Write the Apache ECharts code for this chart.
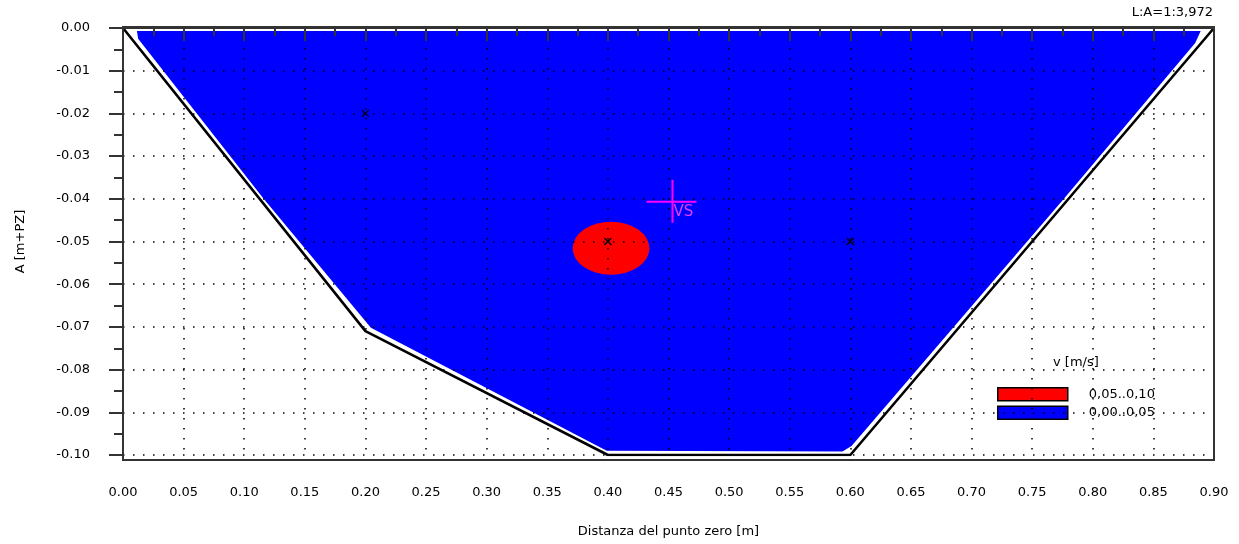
<!DOCTYPE html>
<html><head><meta charset="utf-8">
<script src="https://cdn.jsdelivr.net/npm/echarts@6/dist/echarts.min.js"></script>
<style>html,body{margin:0;padding:0;background:#fff}#c{width:1239px;height:544px}</style>
</head><body><div id="c"></div>
<script>
// ---- data ----
const profileX = [0, 0.2, 0.4, 0.6, 0.9];
const profileY = [0, -0.071, -0.1, -0.1, 0];
const blueX = [0.0115, 0.889, 0.8845, 0.7753, 0.601, 0.5935, 0.399, 0.2045, 0.116, 0.0125];
const blueY = [-0.0007, -0.0007, -0.0035, -0.0403, -0.0979, -0.0992, -0.0990, -0.0702, -0.0400, -0.0025];
const redEllipse = [0.4026, -0.0516, 0.0317, 0.0062]; // centre x, centre y, radius x, radius y
const probeX = [0.2, 0.4, 0.6];
const probeY = [-0.02, -0.05, -0.05];
const vsPoint = [0.4533, -0.0407];
const vsLabel = 'VS';
const legendNames = ['0,05..0,10', '0,00..0,05'];
const legendTitle = 'v [m/s]';
const scaleLabel = 'L:A=1:3,972';
const xName = 'Distanza del punto zero [m]';
const yName = 'A [m+PZ]';

const FONT = 'DejaVu Sans';
const TXT = '#000';
const AX = '#333';
const G = {left: 123, right: 25, top: 28, bottom: 89};
const W = 1239, H = 544;

const chart = echarts.init(document.getElementById('c'), null, {renderer: 'canvas'});
const dotted = {color: '#000', width: 1.5, type: [1.5, 8.5]};

chart.setOption({
  animation: false,
  title: [
    {text: scaleLabel, right: 26, top: 6, padding: 0,
     textStyle: {fontFamily: FONT, fontSize: 13, fontWeight: 'normal', color: TXT}},
    {text: legendTitle, left: 1053, top: 356, padding: 0,
     textStyle: {fontFamily: FONT, fontSize: 13, fontWeight: 'normal', color: TXT}}
  ],
  legend: {
    orient: 'vertical', left: 997, top: 387, padding: 0,
    itemWidth: 70, itemHeight: 13, itemGap: 4, icon: 'rect',
    selectedMode: false,
    data: legendNames,
    itemStyle: {borderColor: '#000', borderWidth: 1.5},
    textStyle: {fontFamily: FONT, fontSize: 13, color: TXT, padding: [0, 0, 0, 16], lineHeight: 13}
  },
  grid: {left: G.left, right: G.right, top: G.top, bottom: G.bottom, containLabel: false},
  xAxis: {
    type: 'value', min: 0, max: 0.9, interval: 0.05, offset: 5, z: 5,
    name: xName, nameLocation: 'middle', nameGap: 65,
    nameTextStyle: {fontFamily: FONT, fontSize: 13, color: TXT},
    axisLine: {lineStyle: {color: AX, width: 2}},
    axisTick: {length: 13, lineStyle: {color: AX, width: 2}},
    minorTick: {show: true, splitNumber: 2, length: 8, lineStyle: {color: AX, width: 2}},
    axisLabel: {margin: 26, fontFamily: FONT, fontSize: 13, color: TXT, formatter: v => v.toFixed(2)},
    splitLine: {show: true, lineStyle: dotted}
  },
  yAxis: {
    type: 'value', min: -0.1, max: 0, interval: 0.01, z: 5,
    name: yName, nameLocation: 'middle', nameGap: 96,
    nameTextStyle: {fontFamily: FONT, fontSize: 13, color: TXT},
    axisLine: {lineStyle: {color: AX, width: 2}},
    axisTick: {length: 14, lineStyle: {color: AX, width: 2}},
    minorTick: {show: true, splitNumber: 2, length: 9, lineStyle: {color: AX, width: 2}},
    axisLabel: {margin: 33, fontFamily: FONT, fontSize: 13, color: TXT,
      formatter: v => (Math.abs(v) < 1e-9 ? 0 : v).toFixed(2)},
    splitLine: {show: true, lineStyle: dotted}
  },
  graphic: [{
    type: 'rect', z: 20, silent: true,
    shape: {x: G.left, y: G.top - 1, width: W - G.left - G.right, height: H - G.bottom - G.top + 6},
    style: {fill: null, stroke: AX, lineWidth: 2}
  }],
  series: [
    {
      name: legendNames[1], type: 'custom', z: 1, clip: false,
      itemStyle: {color: '#0000ff'},
      data: [[blueX[0], blueY[0]]],
      renderItem: (params, api) => ({
        type: 'polygon',
        shape: {points: blueX.map((x, i) => api.coord([x, blueY[i]]))},
        style: {fill: '#0000ff'}
      })
    },
    {
      name: legendNames[0], type: 'custom', z: 2,
      itemStyle: {color: '#ff0000'},
      encode: {x: 0, y: 1},
      data: [redEllipse],
      renderItem: (params, api) => {
        const cx = api.value(0), cy = api.value(1), rx = api.value(2), ry = api.value(3);
        const c = api.coord([cx, cy]);
        const ex = api.coord([cx + rx, cy]);
        const ey = api.coord([cx, cy + ry]);
        const rxp = Math.abs(ex[0] - c[0]), ryp = Math.abs(ey[1] - c[1]);
        return {type: 'circle', x: c[0], y: c[1], scaleX: rxp / ryp,
          shape: {cx: 0, cy: 0, r: ryp}, style: {fill: '#ff0000'}};
      }
    },
    {
      name: 'profilo', type: 'line', z: 3, symbol: 'none',
      lineStyle: {color: '#000', width: 2.6},
      data: profileX.map((x, i) => [x, profileY[i]])
    },
    {
      name: 'punti', type: 'custom', z: 6,
      data: probeX.map((x, i) => [x, probeY[i]]),
      renderItem: (params, api) => {
        const p = api.coord([api.value(0), api.value(1)]);
        const s = 3.5;
        const st = {stroke: '#000', lineWidth: 1.3};
        return {type: 'group', children: [
          {type: 'line', shape: {x1: p[0] - s, y1: p[1] - s, x2: p[0] + s, y2: p[1] + s}, style: st},
          {type: 'line', shape: {x1: p[0] - s, y1: p[1] + s, x2: p[0] + s, y2: p[1] - s}, style: st}
        ]};
      }
    },
    {
      name: 'vs', type: 'custom', z: 7,
      data: [vsPoint],
      renderItem: (params, api) => {
        const p = api.coord([api.value(0), api.value(1)]);
        const st = {stroke: '#ff00ff', lineWidth: 2};
        return {type: 'group', children: [
          {type: 'line', shape: {x1: p[0] - 26, y1: p[1], x2: p[0] + 24, y2: p[1]}, style: st},
          {type: 'line', shape: {x1: p[0], y1: p[1] - 22, x2: p[0], y2: p[1] + 21}, style: st},
          {type: 'text', x: p[0] + 1, y: p[1] + 3,
           style: {text: vsLabel, fill: '#e040ff', font: '15px "DejaVu Sans"', textAlign: 'left', textVerticalAlign: 'top'}}
        ]};
      }
    }
  ]
});
</script>
</body></html>
